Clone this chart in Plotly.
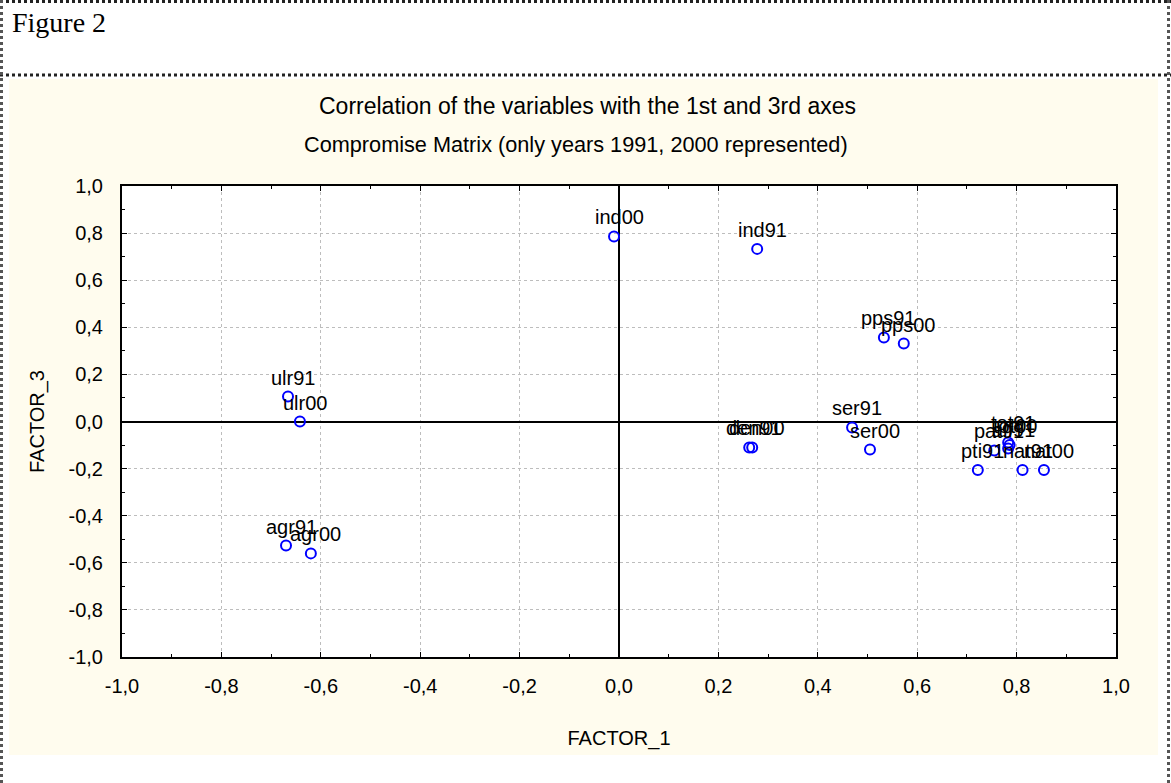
import plotly.graph_objects as go

# ---- data ----
labels = ["ind00", "ind91", "pps91", "pps00", "ulr91", "ulr00", "agr91", "agr00",
          "den91", "den00", "ser91", "ser00",
          "pti91", "pat91", "tot91", "alf91", "tot00", "nat91", "nat00"]
factor_1 = [-0.01, 0.278, 0.533, 0.573, -0.666, -0.642, -0.670, -0.620,
            0.262, 0.268, 0.469, 0.505,
            0.722, 0.755, 0.783, 0.783, 0.786, 0.812, 0.855]
factor_3 = [0.786, 0.733, 0.357, 0.331, 0.106, 0.0, -0.527, -0.560,
            -0.110, -0.110, -0.025, -0.119,
            -0.206, -0.123, -0.089, -0.115, -0.100, -0.206, -0.206]

tick_vals = [-1.0, -0.8, -0.6, -0.4, -0.2, 0.0, 0.2, 0.4, 0.6, 0.8, 1.0]
tick_text = ["-1,0", "-0,8", "-0,6", "-0,4", "-0,2", "0,0", "0,2", "0,4", "0,6", "0,8", "1,0"]

title_1 = "Correlation of the variables with the 1st and 3rd axes"
title_2 = "Compromise Matrix (only years 1991, 2000 represented)"

W, H = 1171, 783
px = lambda x: x / W
py = lambda y: 1 - y / H

SANS = "Liberation Sans, Arial"

fig = go.Figure()
fig.add_trace(go.Scatter(
    x=factor_1, y=factor_3, mode="markers",
    marker=dict(symbol="circle-open", size=10, color="#0000FF", line=dict(width=2, color="#0000FF")),
    hoverinfo="text", text=labels, showlegend=False,
))

annotations = []
for lab, xv, yv in zip(labels, factor_1, factor_3):
    annotations.append(dict(x=xv, y=yv, xref="x", yref="y", text=lab, showarrow=False,
                            xshift=5, yshift=19, font=dict(family=SANS, size=20, color="black")))

annotations += [
    dict(x=px(10), y=py(22), xref="paper", yref="paper", text="Figure 2", showarrow=False,
         xanchor="left", yanchor="middle", font=dict(family="Liberation Serif, Times New Roman", size=28, color="black")),
    dict(x=px(587), y=py(106), xref="paper", yref="paper", text=title_1, showarrow=False,
         xanchor="center", yanchor="middle", font=dict(family=SANS, size=23, color="black")),
    dict(x=px(576), y=py(145), xref="paper", yref="paper", text=title_2, showarrow=False,
         xanchor="center", yanchor="middle", font=dict(family=SANS, size=21.7, color="black")),
]

shapes = [
    dict(type="rect", xref="paper", yref="paper", x0=px(9), x1=px(1158), y0=py(755), y1=py(79),
         fillcolor="#FFFCEE", line=dict(width=0), layer="below"),
    dict(type="rect", xref="paper", yref="paper", x0=px(122), x1=px(1116), y0=py(657), y1=py(186),
         fillcolor="white", line=dict(width=0), layer="below"),
    dict(type="line", xref="paper", yref="paper", x0=0, x1=1, y0=py(1.5), y1=py(1.5),
         line=dict(color="#222222", width=3, dash="dot")),
    dict(type="line", xref="paper", yref="paper", x0=0, x1=1, y0=py(75), y1=py(75),
         line=dict(color="#222222", width=3, dash="dot")),
    dict(type="line", xref="paper", yref="paper", x0=px(1.5), x1=px(1.5), y0=0, y1=1,
         line=dict(color="#555555", width=3, dash="dot")),
    dict(type="line", xref="paper", yref="paper", x0=px(1168.5), x1=px(1168.5), y0=0, y1=1,
         line=dict(color="#555555", width=3, dash="dot")),
]

axis_common = dict(
    range=[-1.0, 1.0], tickvals=tick_vals, ticktext=tick_text,
    automargin=False,
    showgrid=True, gridcolor="#BDBDBD", gridwidth=1, griddash="3px,3px",
    zeroline=True, zerolinecolor="black", zerolinewidth=1.5,
    showline=True, linecolor="black", linewidth=2, mirror="ticks",
    ticks="inside", ticklen=5, tickcolor="black",
    minor=dict(dtick=0.1, ticks="inside", ticklen=3, tickcolor="black", showgrid=False),
    tickfont=dict(family=SANS, size=20, color="black"),
    title_font=dict(family=SANS, size=20, color="black"),
    fixedrange=True,
)

fig.update_layout(
    width=W, height=H,
    margin=dict(l=0, r=0, t=0, b=0, pad=0, autoexpand=False),
    paper_bgcolor="white", plot_bgcolor="rgba(0,0,0,0)",
    xaxis=dict(domain=[px(122), px(1116)], ticklabelstandoff=10,
               title=dict(text="FACTOR_1", standoff=35), **axis_common),
    yaxis=dict(domain=[py(657), py(186)], ticklabelstandoff=13,
               title=dict(text="FACTOR_3", standoff=19), **axis_common),
    annotations=annotations, shapes=shapes,
    showlegend=False,
)

fig.write_html(
    "out.html",
    config={"displayModeBar": False},
    post_script=(
        "document.documentElement.style.margin='0';"
        "document.body.style.margin='0';document.body.style.padding='0';"
        "document.documentElement.style.overflow='hidden';"
    ),
)
